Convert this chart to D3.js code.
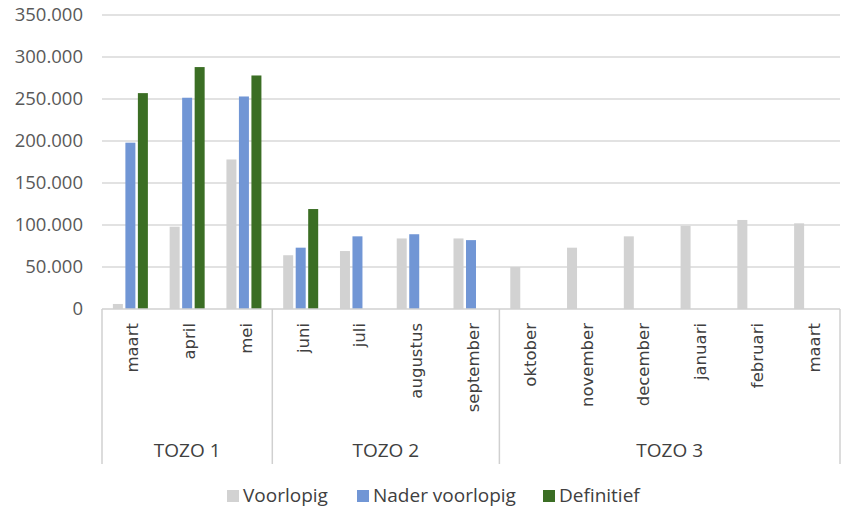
<!DOCTYPE html>
<html>
<head>
    <title>tozo</title>
    <script src="https://d3js.org/d3.v7.min.js"></script>
    <style>
        body { margin: 0; background: #fff; }
        .grid line { stroke: #d9d9d9; stroke-width: 1.5; }
        .ytick { font-family: "Open Sans", sans-serif; font-size: 18.5px; fill: #595959; }
        .month { font-family: "DejaVu Sans", sans-serif; font-size: 16.5px; fill: #404040; }
        .group { font-family: "Open Sans", sans-serif; font-size: 19px; fill: #404040; }
        .legend { font-family: "Open Sans", sans-serif; font-size: 19px; fill: #404040; }
        .frame { stroke: #d0d0d0; stroke-width: 1.5; }
    </style>
</head>
<body>
    <script>
        var months = ["maart", "april", "mei", "juni", "juli", "augustus", "september",
                      "oktober", "november", "december", "januari", "februari", "maart"];
        var groups = [
            { name: "TOZO 1", from: 0, to: 3 },
            { name: "TOZO 2", from: 3, to: 7 },
            { name: "TOZO 3", from: 7, to: 13 }
        ];
        var seriesNames = ["Voorlopig", "Nader voorlopig", "Definitief"];
        var seriesColors = ["#d2d2d2", "#7196d5", "#3b6e24"];
        var voorlopig = [6000, 98000, 178000, 64000, 69000, 84000, 84000, 50000, 73000, 86500, 99000, 106000, 102000];
        var naderVoorlopig = [198000, 251500, 253000, 73000, 86500, 89000, 82000, null, null, null, null, null, null];
        var definitief = [257000, 288000, 278000, 119000, null, null, null, null, null, null, null, null, null];
        var yTicks = [0, 50000, 100000, 150000, 200000, 250000, 300000, 350000];

        var width = 843, height = 508;
        var plotLeft = 102, plotRight = 840, plotTop = 15, plotBottom = 309;

        var svg = d3.select("body").append("svg")
            .attr("width", width).attr("height", height);

        var y = d3.scaleLinear().domain([0, 350000]).range([plotBottom, plotTop]);
        var x = d3.scaleBand().domain(d3.range(months.length)).range([plotLeft, plotRight]).padding(0);
        var inner = d3.scaleBand().domain(d3.range(3)).range([-17.5, 17.5]).paddingInner(0.2).paddingOuter(0);

        // gridlines
        svg.append("g").attr("class", "grid")
            .selectAll("line").data(yTicks.slice(1)).enter().append("line")
            .attr("x1", plotLeft).attr("x2", plotRight)
            .attr("y1", function (d) { return y(d); })
            .attr("y2", function (d) { return y(d); });

        // y labels
        var fmt = function (d) { return d === 0 ? "0" : d3.format(",")(d).replace(/,/g, "."); };
        svg.selectAll(".ytick").data(yTicks).enter().append("text")
            .attr("class", "ytick")
            .attr("x", 83)
            .attr("y", function (d) { return y(d); })
            .attr("dy", "0.35em")
            .attr("text-anchor", "end")
            .text(fmt);

        // bars
        var allSeries = [voorlopig, naderVoorlopig, definitief];
        allSeries.forEach(function (vals, s) {
            svg.append("g").selectAll("rect")
                .data(vals.map(function (v, i) { return { i: i, v: v }; }).filter(function (d) { return d.v !== null; }))
                .enter().append("rect")
                .attr("x", function (d) { return x(d.i) + x.bandwidth() / 2 + inner(s); })
                .attr("width", inner.bandwidth())
                .attr("y", function (d) { return y(d.v); })
                .attr("height", function (d) { return plotBottom - y(d.v); })
                .attr("fill", seriesColors[s]);
        });

        // axis line and group frame
        svg.append("line").attr("class", "frame")
            .attr("x1", plotLeft).attr("x2", plotRight).attr("y1", plotBottom).attr("y2", plotBottom);
        var seps = [0].concat(groups.map(function (g) { return g.to; }));
        svg.selectAll(".sep").data(seps).enter().append("line")
            .attr("class", "frame")
            .attr("x1", function (d) { return d < months.length ? x(d) : plotRight; })
            .attr("x2", function (d) { return d < months.length ? x(d) : plotRight; })
            .attr("y1", plotBottom).attr("y2", 464);

        // month labels
        svg.selectAll(".month").data(months).enter().append("text")
            .attr("class", "month")
            .attr("text-anchor", "end")
            .attr("transform", function (d, i) {
                return "translate(" + (x(i) + x.bandwidth() / 2 + 8) + "," + 323 + ") rotate(-90)";
            })
            .text(function (d) { return d; });

        // group labels
        svg.selectAll(".group").data(groups).enter().append("text")
            .attr("class", "group")
            .attr("text-anchor", "middle")
            .attr("x", function (g) { return (x(g.from) + (g.to < months.length ? x(g.to) : plotRight)) / 2; })
            .attr("y", 457)
            .text(function (g) { return g.name; });

        // legend
        var legendX = [227, 357, 543];
        var legend = svg.append("g");
        seriesNames.forEach(function (name, s) {
            legend.append("rect")
                .attr("x", legendX[s]).attr("y", 490)
                .attr("width", 12).attr("height", 12)
                .attr("fill", seriesColors[s]);
            legend.append("text")
                .attr("class", "legend")
                .attr("x", legendX[s] + 16).attr("y", 502)
                .text(name);
        });
    </script>
</body>
</html>
